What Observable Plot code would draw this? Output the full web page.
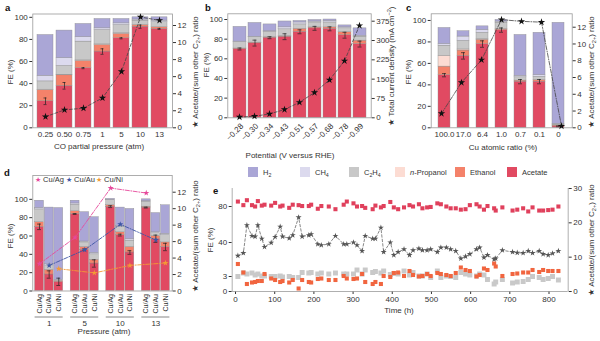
<!DOCTYPE html>
<html><head><meta charset="utf-8">
<script src="https://cdn.jsdelivr.net/npm/d3@7"></script>
<script src="https://cdn.jsdelivr.net/npm/@observablehq/plot@0.6"></script>
<style>
body{margin:0;background:#fff;}
#root{position:relative;width:600px;height:341px;overflow:hidden;font-family:"Liberation Sans",Arial,sans-serif;color:#333;background:#fff;}
#root svg{position:absolute;}
.t{position:absolute;white-space:nowrap;font-size:8px;line-height:1;transform:translate(-50%,-50%);}
.t.r{transform:translate(-50%,-50%) rotate(-90deg);}
.lt{position:absolute;font-weight:bold;font-size:9.5px;color:#111;line-height:1;}
.sw{position:absolute;width:10px;height:10px;}
.lg{position:absolute;font-size:7.5px;line-height:1;white-space:nowrap;transform:translateY(-50%);}
sub{font-size:70%;vertical-align:-0.35em;line-height:0;}
sup{font-size:70%;vertical-align:0.5em;line-height:0;}
</style></head><body><div id="root"></div>
<script>
// ---------- data ----------
const species = ["Acetate","Ethanol","n-Propanol","C2H4","CH4","H2"];
const speciesColors = ["#e14a62","#f4826a","#fcdcd3","#c8c8c8","#dcdaee","#aaa6d6"];

// panel a
const aCats = ["0.25","0.50","0.75","1","5","10","13"];
const aAcetate = [24,38,54,69,81,91.5,89.5];
const aEthanol = [10,9.5,6.5,6,4,1.5,1.5];
const aPropanol = [0.5,0.5,0.5,0.5,0.5,0,0];
const aC2H4 = [7.5,8,17,13,7.5,4,4.5];
const aCH4 = [5,7,4,1.5,1.5,1,1.5];
const aH2 = [37,25,12,8.5,4,2,3];
const aAcetateErr = [3,3,0.5,2.5,0.5,1.5,0.5];
const aRatio = [1.3,2.1,2.3,3.5,6.6,13.0,12.6];

// panel b
const bCats = ["−0.28","−0.30","−0.34","−0.43","−0.51","−0.57","−0.68","−0.78","−0.99"];
const bAcetate = [70,76,81.5,82.5,87.5,91,90.5,84,75];
const bEthanol = [0.5,0.5,0.5,0.5,3,1,1.5,3,3.5];
const bPropanol = [0,0,0,0,0,0,0,0,0];
const bC2H4 = [6.5,5.5,5.5,7,4.5,5,5,4,4];
const bCH4 = [0.5,0.5,0.5,2,2,1,1.5,1,1];
const bH2 = [15,14,7,6,1.5,1.5,1.5,2,7.5];
const bAcetateErr = [1,3,1,3,2,2,2,3,3];
const bCurrent = [3,6,15,32,60,98,147,221,358];

// panel c
const cCats = ["100.0","17.0","6.4","1.0","0.7","0.1","0"];
const cAcetate = [49,67,78,91,43,43,1.3];
const cEthanol = [8,5,4,1,1,1.5,0.9];
const cPropanol = [10,1,0.5,0,0,0,0];
const cC2H4 = [9.5,8,6,6,3,3,0.8];
const cCH4 = [1.5,4,2.5,1,1.5,1.5,0.8];
const cH2 = [15,5,3.5,1.5,38,39.5,94];
const cAcetateErr = [1.5,3,3,2,2,2,0.5];
const cRatio = [1.7,5.4,8.1,12.9,12.7,12.6,0.2];

// panel d (pressure-major, alloy-minor)
const dPressures = ["1","5","10","13"];
const dAlloys = ["Cu/Ag","Cu/Au","Cu/Ni"];
const dAlloyColors = ["#e6489b","#3d56a6","#f39a35"];
const dAcetate = [70,18,10, 84,45,30, 92,61,42, 91,57,48];
const dEthanol = [5,5,1, 3,3,4, 1.5,3,6, 1,3,5];
const dPropanol = [0,0,0, 0,0,0, 0,0,0, 0,0,0];
const dC2H4 = [14,4,1, 7,5,6, 5.5,6,7, 5.5,3,8];
const dCH4 = [1.5,2,0, 1.5,1,1.5, 0.5,1,1.5, 0.5,1,1.5];
const dH2 = [8,62,78.5, 3,32,39, 1,20,33, 2,21,31];
const dAcetateErr = [3,4,4, 0.5,1,4, 1,1,2, 0.5,4,4];
const dRatioAg = [3.3,6.5,12.5,11.9];
const dRatioAu = [3.1,5.0,8.1,6.2];
const dRatioNi = [2.7,2.2,3.1,3.4];

// panel e
const eTime = [6,20,29,42,50,57,67,74,91,101,114,120,137,146,161,170,187,193,210,219,238,255,276,284,301,310,323,331,350,357,371,378,395,404,
  415,430,444,453,468,477,489,498,515,524,538,549,562,575,587,598,615,623,634,643,660,664,681,707,719,734,747,758,775,785,798,809,824];
const eRatio = [10.4,11.2,19.3,16.2,16.0,19.3,15.4,13.0,14.2,15.9,18.9,16.0,15.5,16.4,21.6,16.0,16.4,16.7,13.8,13.5,13.8,16.2,13.8,13.8,14.3,13.5,11.8,16.2,15.4,15.4,18.6,11.5,14.3,10.6,
  11.5,12.3,10.6,12.0,12.5,12.0,12.0,12.3,11.5,12.8,12.8,12.3,11.8,9.6,10.2,10.9,12.3,12.8,9.9,10.6,9.4,9.6,12.0,11.5,11.3,11.2,11.8,11.2,11.8,10.9,10.6,11.1,11.8];
const eAcetate = [85.5,81.5,87,81.5,80,86,81,82,81,84,80,81,78.5,82,81.5,80.5,80.5,82,77.5,80.5,80,77,82,85.5,83.5,80,80.5,78.5,77,81,79,80.5,85,79,
  77,79,81.5,80,82.5,78,79,79.5,83.5,82.5,80,78,78,76.5,77,81.5,82.5,80,76.5,80.5,78,75.5,79,75.5,76.5,78,74.5,79,75.5,75.5,76,76.5,80];
const eEthanol = [5.5,3.8,1.5,1.8,1.9,2.1,2.1,3.5,2.6,2.3,1.9,2.1,1.8,2.3,0.6,2.3,1.9,1.8,2.5,2.6,2.3,2.3,3.1,2.6,2.5,2.6,3.5,1.9,1.5,1.9,1.5,3.1,2.9,3.7,
  3.8,3.1,4.1,3.3,3.0,3.1,3.5,3.1,3.7,3.5,3.3,3.1,3.7,4.8,4.3,4.1,3.0,3.3,4.6,4.3,5.6,5.0,3.1,3.5,3.6,3.8,3.8,4.3,3.9,4.3,4.1,4.1,4.1];
const eC2H4 = [3.0,3.7,3.5,3.7,3.3,3.5,3.1,3.1,3.0,3.0,3.1,2.9,3.0,2.8,2.8,3.8,3.7,3.8,3.5,3.7,3.5,3.7,3.5,3.5,3.5,4.3,3.5,4.3,3.8,4.0,3.7,4.1,3.4,3.6,
  3.5,4.1,3.3,3.8,3.1,3.1,3.5,2.8,4.1,2.8,3.1,3.0,2.8,3.8,3.5,3.3,3.1,3.5,3.3,2.4,1.5,1.9,2.4,1.7,1.9,2.0,2.4,3.0,2.8,2.4,2.6,3.0,2.3];

// ---------- helpers ----------
const root = document.getElementById("root");
const FONT = '"Liberation Sans", Arial, sans-serif';
const style = {background: "transparent", fontFamily: FONT, fontSize: "8px", color: "#333", overflow: "visible"};
const FRAME = "#9a9a9a";

function place(svg, left, top) { svg.style.left = left + "px"; svg.style.top = top + "px"; root.appendChild(svg); }
function text(html, x, y, rot) { const d = document.createElement("div"); d.className = "t" + (rot ? " r" : ""); d.innerHTML = html; d.style.left = x + "px"; d.style.top = y + "px"; root.appendChild(d); return d; }
function letter(s, x, y) { const d = document.createElement("div"); d.className = "lt"; d.textContent = s; d.style.left = x + "px"; d.style.top = y + "px"; root.appendChild(d); }

function stackRows(cats, comps) {
  const rows = [];
  cats.forEach((c, i) => species.forEach((s, j) => rows.push({cat: c, species: s, value: comps[j][i]})));
  return rows;
}
function errRows(cats, ace, err) { return cats.map((c, i) => ({cat: c, y1: ace[i] - err[i], y2: ace[i] + err[i]})); }
function capRows(errs) { return errs.flatMap(e => [{cat: e.cat, y: e.y1}, {cat: e.cat, y: e.y2}]); }

function barPanel({cats, comps, ace, err, ratio, left, top, width, height, m, pi, po, yMax, rMax, rTicks, rotate, capInset, dash}) {
  const errs = errRows(cats, ace, err);
  const xs = {domain: cats, paddingInner: pi, paddingOuter: po};
  const marks = [
    Plot.barY(stackRows(cats, comps), {x: "cat", y: "value", fill: "species", stroke: "#8d8d8d", strokeWidth: 0.4}),
    Plot.ruleX(errs, {x: "cat", y1: "y1", y2: "y2", stroke: "#222", strokeWidth: 0.7}),
    Plot.tickY(capRows(errs), {x: "cat", y: "y", stroke: "#222", strokeWidth: 0.7, insetLeft: capInset, insetRight: capInset}),
    Plot.frame({stroke: FRAME, strokeWidth: 0.8})
  ];
  if (rotate) {
    marks.push(Plot.text(cats, {x: d => d, y: () => 0, text: d => d, rotate, textAnchor: "end", dy: 7, dx: 2, fontSize: 8, fill: "#333"}));
  }
  const main = Plot.plot({
    width, height, marginLeft: m[0], marginRight: m[1], marginTop: m[2], marginBottom: m[3], style,
    x: rotate ? {...xs, axis: null} : {...xs, label: null, tickSize: 0, tickPadding: 4},
    y: {domain: [0, yMax], ticks: [0,20,40,60,80,100], tickSize: 3, tickPadding: 2, label: null},
    color: {domain: species, range: speciesColors},
    marks
  });
  place(main, left, top);
  const rrows = cats.map((c, i) => ({cat: c, v: ratio[i]}));
  const over = Plot.plot({
    width, height, marginLeft: m[0], marginRight: m[1], marginTop: m[2], marginBottom: m[3], style,
    x: {...xs, axis: null},
    y: {domain: [0, rMax], axis: "right", ticks: rTicks, tickSize: 3, tickPadding: 2, label: null},
    marks: [
      Plot.line(rrows, {x: "cat", y: "v", stroke: "#444", strokeWidth: 0.8, strokeDasharray: dash}),
      Plot.dot(rrows, {x: "cat", y: "v", symbol: "star", fill: "#111", r: 2.3})
    ]
  });
  place(over, left, top);
}

// ---------- panel a ----------
barPanel({cats: aCats, comps: [aAcetate,aEthanol,aPropanol,aC2H4,aCH4,aH2], ace: aAcetate, err: aAcetateErr, ratio: aRatio,
  left: 0, top: 0, width: 200, height: 165, m: [32.3, 28, 13.5, 37.7], pi: 0.165, po: 0.075, yMax: 103, rMax: 13.35,
  rTicks: [0,2,4,6,8,10,12], capInset: 6.5, dash: "3,2"});
// ---------- panel b ----------
barPanel({cats: bCats, comps: [bAcetate,bEthanol,bPropanol,bC2H4,bCH4,bH2], ace: bAcetate, err: bAcetateErr, ratio: bCurrent,
  left: 195, top: 0, width: 205, height: 165, m: [32.3, 29.3, 13.3, 47.7], pi: 0.15, po: 0.3, yMax: 105.8, rMax: 403.7,
  rTicks: [0,75,150,225,300,375], rotate: -45, capInset: 4.5, dash: "3,2"});
// ---------- panel c ----------
barPanel({cats: cCats, comps: [cAcetate,cEthanol,cPropanol,cC2H4,cCH4,cH2], ace: cAcetate, err: cAcetateErr, ratio: cRatio,
  left: 395, top: 0, width: 205, height: 165, m: [35.7, 28.3, 13.3, 37.7], pi: 0.38, po: 0.335, yMax: 106.2, rMax: 13.6,
  rTicks: [0,2,4,6,8,10,12], capInset: 4, dash: "4,1.5,1,1.5"});

// ---------- panel d ----------
const GROUP_STEP = 3.7, HALF = 0.46;
const dBars = [];
dPressures.forEach((p, gi) => dAlloys.forEach((a, ai) => dBars.push({p, alloy: a, pos: gi * GROUP_STEP + ai, i: gi * 3 + ai})));
const dComps = [dAcetate, dEthanol, dPropanol, dC2H4, dCH4, dH2];
const dRects = [];
dBars.forEach(b => { let acc = 0; species.forEach((s, j) => { const v = dComps[j][b.i]; dRects.push({pos: b.pos, species: s, y1: acc, y2: acc + v}); acc += v; }); });
const dErr = dBars.map(b => ({pos: b.pos, y1: dAcetate[b.i] - dAcetateErr[b.i], y2: dAcetate[b.i] + dAcetateErr[b.i]}));
const dCaps = dErr.flatMap(e => [{pos: e.pos, y: e.y1}, {pos: e.pos, y: e.y2}]);
const dGroups = dPressures.map((p, gi) => ({p, first: gi * GROUP_STEP, last: gi * GROUP_STEP + 2}));
const dX = {domain: [-0.7, 13.8]};
const dM = {width: 200, height: 176, marginLeft: 32.3, marginRight: 28.3, marginTop: 10, marginBottom: 50.5};
const dMain = Plot.plot({
  ...dM, style,
  x: {...dX, axis: null},
  y: {domain: [0, 126], ticks: [0,20,40,60,80,100], tickSize: 3, tickPadding: 2, label: null},
  color: {domain: species, range: speciesColors},
  marks: [
    Plot.rect(dRects, {x1: d => d.pos - HALF, x2: d => d.pos + HALF, y1: "y1", y2: "y2", fill: "species", stroke: "#8d8d8d", strokeWidth: 0.4}),
    Plot.ruleX(dErr, {x: "pos", y1: "y1", y2: "y2", stroke: "#222", strokeWidth: 0.7}),
    Plot.ruleY(dCaps, {y: "y", x1: d => d.pos - 0.2, x2: d => d.pos + 0.2, stroke: "#222", strokeWidth: 0.7}),
    Plot.frame({stroke: FRAME, strokeWidth: 0.8}),
    Plot.text(dBars, {x: "pos", y: () => 0, text: "alloy", rotate: -90, textAnchor: "end", dy: 3, fontSize: 7, fill: "#333"}),
    Plot.ruleY(dGroups, {y: () => 0, x1: d => d.first - HALF, x2: d => d.last + HALF, dy: 26, stroke: "#555", strokeWidth: 0.7}),
    Plot.text(dGroups, {x: d => (d.first + d.last) / 2, y: () => 0, text: "p", dy: 32, fontSize: 8, fill: "#333"})
  ]
});
place(dMain, 0, 165);
const dRatioRows = [];
[dRatioAg, dRatioAu, dRatioNi].forEach((arr, ai) => arr.forEach((v, gi) => dRatioRows.push({alloy: dAlloys[ai], pos: gi * GROUP_STEP + ai, v})));
const dOver = Plot.plot({
  ...dM, style,
  x: {...dX, axis: null},
  y: {domain: [0, 14.03], axis: "right", ticks: [0,2,4,6,8,10,12], tickSize: 3, tickPadding: 2, label: null},
  color: {domain: dAlloys, range: dAlloyColors},
  marks: [
    Plot.line(dRatioRows, {x: "pos", y: "v", z: "alloy", stroke: "alloy", strokeWidth: 0.9, strokeDasharray: "4,1.5,1,1.5"}),
    Plot.dot(dRatioRows, {x: "pos", y: "v", fill: "alloy", symbol: "star", r: 1.9})
  ]
});
place(dOver, 0, 165);

// ---------- panel e ----------
const eRows = eTime.map((t, i) => ({t, ace: eAcetate[i], eth: eEthanol[i], c2: eC2H4[i], r: eRatio[i]}));
const eXDomain = [-8.5, 849];
const eM = {width: 405, height: 161, marginLeft: 36.7, marginRight: 32.3, marginTop: 8, marginBottom: 50};
const eMain = Plot.plot({
  ...eM, style,
  x: {domain: eXDomain, ticks: [0,100,200,300,400,500,600,700,800], tickSize: 3, tickPadding: 2, label: null},
  y: {type: "linear", domain: [0, 6, 20, 100], range: [111, 81, 80, 8], ticks: [0, 3, 40, 80], tickSize: 3, tickPadding: 2, label: null},
  marks: [
    Plot.ruleX(eXDomain, {stroke: FRAME, strokeWidth: 0.8}),
    Plot.ruleY([0], {stroke: FRAME, strokeWidth: 0.8}),
    Plot.dot(eRows, {x: "t", y: "c2", symbol: "square", r: 2.8, fill: "#c9c9c9"}),
    Plot.dot(eRows, {x: "t", y: "eth", symbol: "square", r: 2.3, fill: "#f1653f"}),
    Plot.dot(eRows, {x: "t", y: "ace", symbol: "square", r: 2.3, fill: "#e0405c"})
  ]
});
place(eMain, 195, 180);
const eOver = Plot.plot({
  ...eM, style,
  x: {domain: eXDomain, axis: null},
  y: {domain: [0, 30], axis: "right", ticks: [0,10,20,30], tickSize: 3, tickPadding: 2, label: null},
  marks: [
    Plot.line(eRows, {x: "t", y: "r", stroke: "#555", strokeWidth: 0.7, strokeDasharray: "2.5,2"}),
    Plot.dot(eRows, {x: "t", y: "r", symbol: "star", fill: "#555", r: 1.9})
  ]
});
place(eOver, 195, 180);

// ---------- titles & labels ----------
letter("a", 5, 3); letter("b", 205, 3); letter("c", 406, 3); letter("d", 4, 168); letter("e", 213, 186);
const ratioTitle = "★ Acetate/(sum other C<sub>2+</sub>) ratio";
text("FE (%)", 11, 72, true); text(ratioTitle, 196, 72, true); text("CO partial pressure (atm)", 99, 147);
text("FE (%)", 207, 65, true); text("★ Total current density (mA cm<sup>−2</sup>)", 392, 66, true); text("Potential (V versus RHE)", 290, 156);
text("FE (%)", 409, 72, true); text(ratioTitle, 592, 72, true); text("Cu atomic ratio (%)", 503, 148);
text("FE (%)", 11, 236, true); text(ratioTitle, 196, 236, true); text("Pressure (atm)", 104, 332);
text("FE (%)", 211, 240, true); text(ratioTitle, 592, 240, true); text("Time (h)", 399, 311);

// main legend
const legendItems = [["H<sub>2</sub>", 5, 248], ["CH<sub>4</sub>", 4, 300], ["C<sub>2</sub>H<sub>4</sub>", 3, 349], ["<i>n</i>-Propanol", 2, 395], ["Ethanol", 1, 455], ["Acetate", 0, 507]];
legendItems.forEach(([lab, ci, x]) => {
  const s = document.createElement("div"); s.className = "sw"; s.style.left = x + "px"; s.style.top = "167px"; s.style.background = speciesColors[ci]; root.appendChild(s);
  const l = document.createElement("div"); l.className = "lg"; l.innerHTML = lab; l.style.left = (x + 15) + "px"; l.style.top = "172.5px"; root.appendChild(l);
});
// panel d legend
dAlloys.forEach((a, i) => {
  const x = [35, 66, 96][i];
  const l = document.createElement("div"); l.className = "lg";
  l.innerHTML = `<span style="color:${dAlloyColors[i]};font-size:7px">★</span> ${a}`;
  l.style.left = x + "px"; l.style.top = "180px"; root.appendChild(l);
});
</script></body></html>
